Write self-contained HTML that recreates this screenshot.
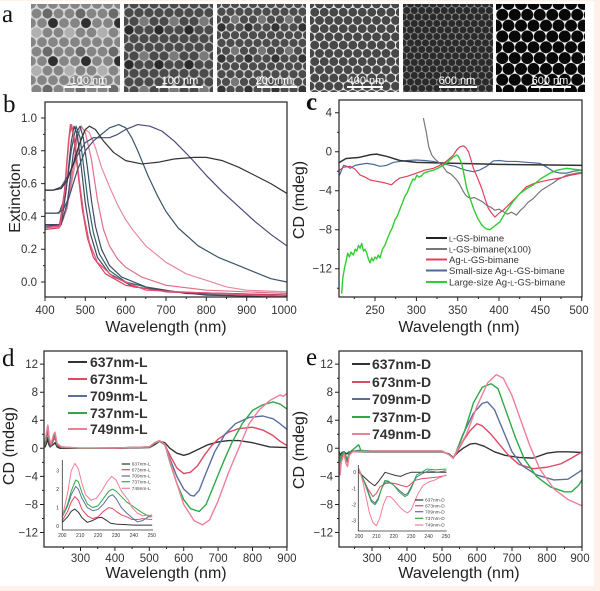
<!DOCTYPE html>
<html><head><meta charset="utf-8"><style>
html,body{margin:0;padding:0;background:#fff;}
svg{display:block;}
text{font-family:"Liberation Sans",Arial,sans-serif;}
.t{font-size:11.5px;fill:#333;}
.ax{font-size:16px;fill:#222;}
.lt{font-family:"Liberation Serif",serif;font-size:25px;fill:#111;}
.c path{fill:none;stroke-linejoin:round;stroke-linecap:round;}
</style></head><body>
<svg width="600" height="591" viewBox="0 0 600 591" xmlns="http://www.w3.org/2000/svg">
<defs>
<pattern id="p1" x="31" y="4" width="11" height="19.05" patternUnits="userSpaceOnUse"><rect width="11" height="19.05" fill="#d6d6d6"/><g fill="#858585"><circle cx="0" cy="0" r="4.9"/><circle cx="11" cy="0" r="4.9"/><circle cx="0" cy="19.05" r="4.9"/><circle cx="11" cy="19.05" r="4.9"/><circle cx="5.5" cy="9.525" r="4.9"/></g></pattern>
<pattern id="p1b" x="31" y="4" width="33" height="38.1" patternUnits="userSpaceOnUse"><circle cx="22" cy="19.05" r="4.9" fill="#2f2f2f"/><circle cx="5.5" cy="28.575" r="4.9" fill="#b0b0b0"/><circle cx="16.5" cy="9.525" r="4.9" fill="#6a6a6a"/></pattern>
<pattern id="p2" x="124" y="4" width="10" height="17.32" patternUnits="userSpaceOnUse"><rect width="10" height="17.32" fill="#c8c8c8"/><g fill="#4a4a4a"><circle cx="0" cy="0" r="4.6"/><circle cx="10" cy="0" r="4.6"/><circle cx="0" cy="17.32" r="4.6"/><circle cx="10" cy="17.32" r="4.6"/><circle cx="5" cy="8.66" r="4.6"/></g></pattern>
<pattern id="p2b" x="124" y="4" width="30" height="34.64" patternUnits="userSpaceOnUse"><circle cx="20" cy="17.32" r="4.6" fill="#7a7a7a"/><circle cx="5" cy="25.98" r="4.6" fill="#2a2a2a"/></pattern>
<pattern id="p3" x="217" y="4" width="9" height="15.59" patternUnits="userSpaceOnUse"><rect width="9" height="15.59" fill="#d8d8d8"/><g fill="#4c4c4c"><circle cx="0" cy="0" r="4.1"/><circle cx="9" cy="0" r="4.1"/><circle cx="0" cy="15.59" r="4.1"/><circle cx="9" cy="15.59" r="4.1"/><circle cx="4.5" cy="7.795" r="4.1"/></g></pattern>
<pattern id="p3b" x="217" y="4" width="27" height="31.18" patternUnits="userSpaceOnUse"><circle cx="18" cy="15.59" r="4.1" fill="#777"/><circle cx="4.5" cy="23.385" r="4.1" fill="#333"/></pattern>
<pattern id="p4" x="310" y="4" width="9.5" height="16.45" patternUnits="userSpaceOnUse"><rect width="9.5" height="16.45" fill="#eeeeee"/><g fill="#474747"><circle cx="0" cy="0" r="4.45"/><circle cx="9.5" cy="0" r="4.45"/><circle cx="0" cy="16.45" r="4.45"/><circle cx="9.5" cy="16.45" r="4.45"/><circle cx="4.75" cy="8.225" r="4.45"/></g></pattern>
<pattern id="p5" x="403" y="4" width="7.5" height="12.99" patternUnits="userSpaceOnUse"><rect width="7.5" height="12.99" fill="#8a8a8a"/><g fill="#2a2a2a"><circle cx="0" cy="0" r="3.45"/><circle cx="7.5" cy="0" r="3.45"/><circle cx="0" cy="12.99" r="3.45"/><circle cx="7.5" cy="12.99" r="3.45"/><circle cx="3.75" cy="6.495" r="3.45"/></g></pattern>
<pattern id="p6" x="496" y="4" width="12.5" height="21.65" patternUnits="userSpaceOnUse"><rect width="12.5" height="21.65" fill="#f4f4f4"/><g fill="#080808"><circle cx="0" cy="0" r="6"/><circle cx="12.5" cy="0" r="6"/><circle cx="0" cy="21.65" r="6"/><circle cx="12.5" cy="21.65" r="6"/><circle cx="6.25" cy="10.825" r="6"/></g></pattern>
<clipPath id="cb"><rect x="45" y="102" width="242" height="195"/></clipPath>
<clipPath id="cc"><rect x="339" y="100" width="243" height="197"/></clipPath>
<clipPath id="cd"><rect x="44" y="351" width="243" height="196"/></clipPath>
<clipPath id="ce"><rect x="339" y="351" width="243" height="196"/></clipPath>
</defs>

<!-- peach frame -->
<rect x="594" y="0" width="6" height="591" fill="#fdf1ea"/>
<rect x="0" y="586" width="600" height="5" fill="#fdf1ea"/>
<rect x="0" y="0" width="600" height="1" fill="#fdf1ea"/>

<!-- panel a -->
<text class="lt" x="2" y="22">a</text>
<rect x="31" y="4" width="89" height="88" fill="url(#p1)"/><rect x="31" y="4" width="89" height="88" fill="url(#p1b)"/>
<rect x="124" y="4" width="89" height="88" fill="url(#p2)"/><rect x="124" y="4" width="89" height="88" fill="url(#p2b)"/>
<rect x="217" y="4" width="89" height="88" fill="url(#p3)"/><rect x="217" y="4" width="89" height="88" fill="url(#p3b)"/>
<rect x="310" y="4" width="89" height="88" fill="url(#p4)"/>
<rect x="403" y="4" width="90" height="88" fill="url(#p5)"/>
<rect x="496" y="4" width="89" height="88" fill="url(#p6)"/>
<g fill="#fff" font-size="11" text-anchor="middle">
<rect x="64" y="86" width="47" height="2"/><text x="89" y="84">100 nm</text>
<rect x="156" y="86" width="47" height="2"/><text x="180" y="84">100 nm</text>
<rect x="257" y="86" width="40" height="2"/><text x="274" y="84">200 nm</text>
<rect x="347" y="86" width="36" height="2"/><text x="366" y="84">400 nm</text>
<rect x="439" y="86" width="38" height="2"/><text x="457" y="84">600 nm</text>
<rect x="531" y="86" width="40" height="2"/><text x="550" y="84">600 nm</text>
</g>

<!-- panel b -->
<text class="lt" x="3" y="112">b</text>
<g class="c" clip-path="url(#cb)">
<g transform="translate(-116.32,282) scale(0.4033,-1.64)" stroke-width="1.2">
<path vector-effect="non-scaling-stroke" stroke="#e68aa2" d="M400,33 L430,34 445,38 460,52 475,72 490,88 500,93 510,91 525,82 540,70 560,58 580,47 600,38 620,31 650,22 700,12 750,5 800,1 850,-3 900,-5 1000,-6"/>
<path vector-effect="non-scaling-stroke" stroke="#e0708c" d="M400,33 L440,35 455,45 470,70 480,88 490,95 500,91 515,75 530,50 545,32 560,22 580,14 600,9 640,3 700,-2 800,-5 1000,-7"/>
<path vector-effect="non-scaling-stroke" stroke="#3f4a6e" d="M400,34 L440,35 455,48 470,78 480,92 487,95 495,88 505,70 515,50 525,34 540,20 560,10 590,3 650,-3 750,-7 1000,-8"/>
<path vector-effect="non-scaling-stroke" stroke="#2f6262" d="M400,42 L435,42 450,52 465,80 477,95 487,88 497,68 507,48 520,30 535,17 560,7 600,0 700,-6 1000,-8"/>
<path vector-effect="non-scaling-stroke" stroke="#454560" d="M400,35 L440,35 452,55 465,85 472,95 480,90 490,70 500,48 512,30 530,15 560,5 620,-3 800,-8 1000,-9"/>
<path vector-effect="non-scaling-stroke" stroke="#d6405e" d="M400,32 L435,33 448,55 458,85 463,96 470,90 480,70 492,45 505,27 520,15 550,5 600,-2 700,-6 1000,-8"/>
<path vector-effect="non-scaling-stroke" stroke="#e25676" d="M400,33 L438,34 450,58 460,88 466,96 474,86 485,62 497,40 510,24 530,12 570,3 650,-5 1000,-9"/>
<path vector-effect="non-scaling-stroke" stroke="#3b5566" d="M400,42 L430,42 445,44 460,52 480,68 500,80 520,86 540,90 560,94 583,96 600,94 615,88 630,80 655,65 680,52 700,43 730,33 780,22 830,15 870,11 920,6 960,2 1000,0"/>
<path vector-effect="non-scaling-stroke" stroke="#4b4a78" d="M400,56 L420,56 440,58 460,66 480,77 500,85 520,88 540,88 560,88 580,90 600,93 630,96 660,95 690,92 720,86 760,76 800,65 840,55 880,46 920,37 960,29 1000,22"/>
<path vector-effect="non-scaling-stroke" stroke="#333" d="M400,56 L420,56 440,57 455,62 470,72 485,84 500,93 510,95 525,93 545,86 570,79 600,74 640,72 680,73 720,75 770,76 800,76 840,74 880,70 920,65 960,60 1000,54"/>
</g></g>
<rect x="45" y="102" width="242" height="195" fill="none" stroke="#222" stroke-width="1.2"/>
<path stroke="#222" stroke-width="1" fill="none" d="M45,282h-4M45,249.2h-4M45,216.4h-4M45,183.6h-4M45,150.8h-4M45,118h-4M45,265.6h-2M45,232.8h-2M45,200h-2M45,167.2h-2M45,134.4h-2M45,297v4M85.3,297v4M125.7,297v4M166,297v4M206.3,297v4M246.7,297v4M287,297v4M65.2,297v2M105.5,297v2M145.8,297v2M186.2,297v2M226.5,297v2M266.8,297v2"/>
<g class="t" text-anchor="end"><text x="37" y="286">0.0</text><text x="37" y="253.2">0.2</text><text x="37" y="220.4">0.4</text><text x="37" y="187.6">0.6</text><text x="37" y="154.8">0.8</text><text x="37" y="122">1.0</text></g>
<g class="t" text-anchor="middle"><text x="45" y="314">400</text><text x="85.3" y="314">500</text><text x="125.7" y="314">600</text><text x="166" y="314">700</text><text x="206.3" y="314">800</text><text x="246.7" y="314">900</text><text x="284" y="314">1000</text></g>
<text class="ax" text-anchor="middle" transform="translate(20,198) rotate(-90)">Extinction</text>
<text class="ax" x="166" y="332" text-anchor="middle">Wavelength (nm)</text>

<!-- panel c -->
<text class="lt" x="306" y="110" font-weight="bold">c</text>
<g class="c" clip-path="url(#cc)">
<g transform="translate(168.25,151.7) scale(0.827,-9.75)" stroke-width="1.2">
<path vector-effect="non-scaling-stroke" stroke="#4a6a9a" d="M207,-2.4 L212,-1.4 216,-1.5 220,-1.7 226,-1.4 232,-1.3 240,-1.2 248,-1.3 256,-1.5 264,-1.4 272,-1.1 280,-1.0 290,-0.9 300,-0.85 310,-0.9 320.6,-1.0 330,-1.2 340.7,-1.4 347,-1.5 352.8,-1.7 360,-1.9 369,-2.05 376,-1.9 385,-1.5 393,-0.95 400,-0.9 410,-1.0 421,-1.0 435,-1.1 449.5,-1.2 458,-1.6 466,-2.05 474,-2.2 481.8,-2.2 490,-2.0 500,-1.9"/>
<path vector-effect="non-scaling-stroke" stroke="#333" stroke-width="1.5" d="M207,-1.1 L215,-0.7 230,-0.6 245,-0.3 252,-0.25 265,-0.5 280,-0.9 300,-1.1 350,-1.2 400,-1.3 450,-1.35 500,-1.4"/>
<path vector-effect="non-scaling-stroke" stroke="#777" d="M308.6,3.4 L312,2 315,0.5 318.6,-0.34 323,-0.8 328.6,-1.2 332,-1.5 336.7,-2.05 342,-2.3 348.8,-2.9 352,-3.3 356.9,-4.1 360,-4.5 365,-4.8 370,-4.7 377,-5 381,-5.2 385,-5.5 390,-5.7 395,-6.0 400,-5.9 405,-6.15 410,-6.4 415,-6.2 421,-6.5 426,-6.0 430,-5.7 435,-5.2 441.5,-4.8 447,-4.3 452,-3.9 458,-3.6 465.6,-3.2 470,-2.9 475,-2.7 481.8,-2.4 488,-2.3 494,-2.2 500,-2.1"/>
<path vector-effect="non-scaling-stroke" stroke="#e0405e" d="M207,-1.9 L212,-1.6 219.9,-1.5 226,-1.8 232,-2.4 238,-2.6 244,-2.9 250,-3.0 256,-3.1 262,-3.2 270,-3.4 275,-3.0 280,-2.7 290,-2.5 300,-2.2 310,-1.9 320.6,-1.7 326,-1.5 332.7,-1.2 339,-0.8 344.8,-0.34 349,0.2 352.8,0.5 357,0.6 360,0.4 363,0 366,-0.8 369,-1.7 374,-2.7 379,-3.75 383,-4.8 387,-5.8 391,-6.3 395,-6.7 400,-6.3 405,-6 411,-5.5 417,-5 425,-4.3 433,-3.6 441,-3.3 449.5,-3.1 460,-2.9 473.7,-2.7 487,-2.4 500,-2.2"/>
<path vector-effect="non-scaling-stroke" stroke="#3c3" stroke-width="1.4" d="M209.8,-14.5 L211,-13 213,-12 215.8,-10.9 217,-10.4 219,-10.8 221,-10.3 223.8,-10.6 226,-10.0 228,-10.2 230,-9.6 231.9,-9.9 234,-9.4 236,-10.2 238,-10.0 240,-10.4 242,-11.0 244,-11.4 246,-10.9 248,-11.2 250,-10.8 252,-11.0 254,-10.6 256,-10.9 259,-10.0 262,-9.6 265,-8.9 268.5,-8.2 271,-7.8 274,-7.0 277,-6.6 280.6,-5.8 283,-5.3 286,-4.6 289,-4.2 292.7,-3.4 296,-2.8 298,-2.9 300.6,-2.4 303,-2.6 306,-2.5 309,-2.2 312,-2.1 316,-2.0 320.6,-1.9 326,-1.7 332.7,-1.4 336,-1.2 340.7,-0.85 344,-0.6 348.8,-0.34 351,-0.5 354.8,-1.2 358,-2.5 360.9,-3.75 365,-4.8 369,-5.8 374,-6.8 379,-7.5 384,-7.9 389,-8.0 395,-7.6 401,-7.2 408,-6.2 417,-5.1 425,-4.3 433,-3.8 441.5,-3.4 450,-2.8 461.6,-2.2 470,-1.9 481.8,-1.7 490,-1.8 500,-1.9"/>
</g></g>
<rect x="339" y="100" width="243" height="197" fill="none" stroke="#222" stroke-width="1.2"/>
<path stroke="#222" stroke-width="1" fill="none" d="M339,112.7h-4M339,151.7h-4M339,190.7h-4M339,229.7h-4M339,268.7h-4M339,132.2h-2M339,171.2h-2M339,210.2h-2M339,249.2h-2M339,288.2h-2M375,297v4M416.4,297v4M457.7,297v4M499,297v4M540.4,297v4M581.7,297v4M354.3,297v2M395.7,297v2M437,297v2M478.4,297v2M519.7,297v2M561,297v2"/>
<g class="t" text-anchor="end"><text x="332" y="116.7">4</text><text x="332" y="155.7">0</text><text x="332" y="194.7">−4</text><text x="332" y="233.7">−8</text><text x="332" y="272.7">−12</text></g>
<g class="t" text-anchor="middle"><text x="375" y="314">250</text><text x="416.4" y="314">300</text><text x="457.7" y="314">350</text><text x="499" y="314">400</text><text x="540.4" y="314">450</text><text x="579" y="314">500</text></g>
<text class="ax" text-anchor="middle" transform="translate(304,200) rotate(-90)">CD (mdeg)</text>
<text class="ax" x="459" y="332" text-anchor="middle">Wavelength (nm)</text>
<g stroke-width="2">
<line x1="426" x2="447" y1="238" y2="238" stroke="#222"/>
<line x1="426" x2="447" y1="249" y2="249" stroke="#777"/>
<line x1="426" x2="447" y1="259.5" y2="259.5" stroke="#e0405e"/>
<line x1="426" x2="447" y1="270.5" y2="270.5" stroke="#4a6a9a"/>
<line x1="426" x2="447" y1="282" y2="282" stroke="#3c3"/>
</g>
<g font-size="9.5" fill="#333">
<text x="449" y="241.5"><tspan font-size="7">L</tspan>-GS-bimane</text>
<text x="449" y="252.5"><tspan font-size="7">L</tspan>-GS-bimane(x100)</text>
<text x="449" y="263">Ag-<tspan font-size="7">L</tspan>-GS-bimane</text>
<text x="449" y="274">Small-size Ag-<tspan font-size="7">L</tspan>-GS-bimane</text>
<text x="449" y="285.5">Large-size Ag-<tspan font-size="7">L</tspan>-GS-bimane</text>
</g>

<!-- panel d -->
<text class="lt" x="2" y="366">d</text>
<g class="c" clip-path="url(#cd)">
<g transform="translate(-22.7,448.3) scale(0.344,-7.02)" stroke-width="1.4">
<path vector-effect="non-scaling-stroke" stroke="#333" d="M197,0.2 L202,0.8 205,1.5 208,0.5 212,0.2 222,0.6 226,0.8 232,0.2 240,0 300,0 400,0 500,0.1 515,0.5 530,1.0 545,0.8 560,0 580,-0.7 600,-1.0 615,-0.8 640,-0.2 670,0.5 700,0.9 730,1.1 760,1.1 800,0.8 850,0.2 900,0.1"/>
<path vector-effect="non-scaling-stroke" stroke="#dc4a64" d="M197,0.5 L202,1.5 206,2.5 209,0.8 214,0.3 222,1.2 226,1.5 232,0.4 245,0.1 300,0 400,0 500,0.2 515,0.7 530,1.0 545,0.5 560,-1.0 580,-2.8 600,-3.6 620,-3.4 640,-2.5 660,-1.0 680,0.3 700,1.3 730,2.3 760,2.8 800,3.0 830,2.6 860,1.8 880,1.0 900,0.4"/>
<path vector-effect="non-scaling-stroke" stroke="#5b6f9c" d="M197,0.6 L202,2 206,2.8 209,1.0 214,0.4 222,1.6 226,1.8 232,0.5 245,0.2 300,0 400,0.05 500,0.2 515,0.7 530,1.0 545,0.6 560,-1.5 580,-4 600,-5.8 620,-6.7 630,-6.8 645,-6.0 665,-3.5 690,-0.5 720,2.0 750,3.5 790,4.4 830,4.6 860,4.2 880,3.5 900,2.7"/>
<path vector-effect="non-scaling-stroke" stroke="#2ea84a" d="M197,0.7 L202,2.2 206,3.0 209,1.2 214,0.5 222,1.8 226,2.0 232,0.6 245,0.2 300,0 400,0.05 500,0.2 515,0.7 530,1.0 545,0.6 560,-2 580,-5 600,-7.3 620,-8.6 645,-9.0 665,-8.0 690,-5 715,-2 740,0.8 770,3.5 800,5.4 830,6.2 860,6.6 880,6.3 900,5.6"/>
<path vector-effect="non-scaling-stroke" stroke="#ee7f9a" d="M197,1.0 L202,2.5 205,3.3 209,1.5 214,0.6 222,2.0 226,2.3 232,0.7 245,0.2 300,0.05 400,0.05 500,0.2 515,0.8 530,1.1 545,0.6 560,-1.8 580,-5 600,-8 630,-10.3 655,-10.9 675,-10.2 700,-7.5 730,-3.5 760,0 790,3.5 820,5.5 850,6.8 865,7.2 880,7.6 890,7.4 900,7.8"/>
</g></g>
<rect x="44" y="351" width="243" height="196" fill="none" stroke="#222" stroke-width="1.2"/>
<path stroke="#222" stroke-width="1" fill="none" d="M44,364.1h-4M44,392.2h-4M44,420.2h-4M44,448.3h-4M44,476.4h-4M44,504.5h-4M44,532.5h-4M44,378.2h-2M44,406.2h-2M44,434.3h-2M44,462.4h-2M44,490.4h-2M44,518.5h-2M80.5,547v4M114.9,547v4M149.3,547v4M183.7,547v4M218.1,547v4M252.5,547v4M286.9,547v4M63.3,547v2M97.7,547v2M132.1,547v2M166.5,547v2M200.9,547v2M235.3,547v2M269.7,547v2"/>
<g class="t" text-anchor="end"><text x="38" y="368.1">12</text><text x="38" y="396.2">8</text><text x="38" y="424.2">4</text><text x="38" y="452.3">0</text><text x="38" y="480.4">−4</text><text x="38" y="508.5">−8</text><text x="38" y="536.5">−12</text></g>
<g class="t" text-anchor="middle"><text x="80.5" y="562">300</text><text x="114.9" y="562">400</text><text x="149.3" y="562">500</text><text x="183.7" y="562">600</text><text x="218.1" y="562">700</text><text x="252.5" y="562">800</text><text x="286.9" y="562">900</text></g>
<text class="ax" text-anchor="middle" transform="translate(14,446) rotate(-90)">CD (mdeg)</text>
<text class="ax" x="166" y="578" text-anchor="middle">Wavelength (nm)</text>
<g stroke-width="2">
<line x1="68" x2="87" y1="362" y2="362" stroke="#333"/>
<line x1="68" x2="87" y1="379" y2="379" stroke="#dc4a64"/>
<line x1="68" x2="87" y1="396" y2="396" stroke="#5b6f9c"/>
<line x1="68" x2="87" y1="413" y2="413" stroke="#2ea84a"/>
<line x1="68" x2="87" y1="429" y2="429" stroke="#ee7f9a"/>
</g>
<g font-size="14" font-weight="bold" fill="#333">
<text x="90" y="367">637nm-L</text><text x="90" y="384">673nm-L</text><text x="90" y="401">709nm-L</text><text x="90" y="418">737nm-L</text><text x="90" y="434">749nm-L</text>
</g>
<!-- inset d -->
<g class="c">
<g transform="translate(-295.7,526) scale(1.79,-18.4)" stroke-width="1">
<path vector-effect="non-scaling-stroke" stroke="#333" d="M200,0.2 L203,0.5 205,0.8 207,0.92 209,0.75 211,0.45 214,0.2 217,0.3 220,0.45 222,0.47 224,0.35 227,0.15 230,0.1 240,0.05 250,0.05"/>
<path vector-effect="non-scaling-stroke" stroke="#dc4a64" d="M200,0.3 L203,0.8 205,1.3 207,1.6 209,1.4 211,0.9 214,0.55 217,0.4 220,0.5 223,0.8 226,1.0 228,0.95 230,0.8 233,0.6 236,0.5 239,0.35 242,0.35 245,0.4 250,0.35"/>
<path vector-effect="non-scaling-stroke" stroke="#5b6f9c" d="M200,0.5 L203,1.1 205,1.7 207.5,2.15 209,2.0 211,1.5 214,1.0 217,0.83 220,0.9 223,1.2 226,1.6 228,1.7 230,1.5 233,1.0 236,0.7 239,0.45 242,0.22 245,0.3 248,0.5 250,0.5"/>
<path vector-effect="non-scaling-stroke" stroke="#2ea84a" d="M200,0.5 L203,1.2 205,1.9 207.5,2.5 209,2.4 211,1.8 214,1.2 217,1.0 220,1.1 223,1.5 226,1.9 228,2.0 230,1.9 233,1.6 236,1.3 239,1.1 242,0.9 245,0.7 248,0.55 250,0.6"/>
<path vector-effect="non-scaling-stroke" stroke="#ee7f9a" d="M200,0.5 L203,1.8 205,3.0 207,3.4 209,3.1 211,2.3 213,1.7 216,1.4 219,1.5 222,1.9 225,2.4 227.6,2.7 230,2.5 233,1.9 236.9,1.4 239,1.0 241.9,0.7 245,0.55 248,0.6 250,0.5"/>
</g></g>
<path stroke="#333" stroke-width="0.8" fill="none" d="M62.3,460V530H153"/>
<g font-size="5" fill="#333" text-anchor="end"><text x="59" y="527.8">0</text><text x="59" y="509.4">1</text><text x="59" y="491">2</text><text x="59" y="472.6">3</text></g>
<g font-size="5" fill="#333" text-anchor="middle"><text x="62.3" y="537">200</text><text x="80.2" y="537">210</text><text x="98.1" y="537">220</text><text x="116" y="537">230</text><text x="133.9" y="537">240</text><text x="151.8" y="537">250</text></g>
<g stroke-width="1.2"><line x1="121.7" x2="130" y1="464" y2="464" stroke="#333"/><line x1="121.7" x2="130" y1="469.7" y2="469.7" stroke="#dc4a64"/><line x1="121.7" x2="130" y1="476" y2="476" stroke="#5b6f9c"/><line x1="121.7" x2="130" y1="481.7" y2="481.7" stroke="#2ea84a"/><line x1="121.7" x2="130" y1="488.3" y2="488.3" stroke="#ee7f9a"/></g>
<g font-size="4.8" fill="#444"><text x="131.7" y="465.7">637nm-L</text><text x="131.7" y="471.4">673nm-L</text><text x="131.7" y="477.7">709nm-L</text><text x="131.7" y="483.4">737nm-L</text><text x="131.7" y="490">749nm-L</text></g>

<!-- panel e -->
<text class="lt" x="306" y="365">e</text>
<g class="c" clip-path="url(#ce)">
<g transform="translate(267,448.3) scale(0.35,-7.02)" stroke-width="1.4">
<path vector-effect="non-scaling-stroke" stroke="#333" d="M206,-0.5 L210,-1.0 214,-0.6 220,-0.5 228,-0.8 235,-0.5 260,-0.5 300,-0.5 400,-0.5 500,-0.5 520,-0.8 532,-1.3 545,-0.6 560,0 580,0.6 595,0.7 620,0.3 650,-0.5 680,-1.0 720,-1.3 760,-1.4 800,-0.7 830,-0.5 860,-0.5 900,-0.6"/>
<path vector-effect="non-scaling-stroke" stroke="#dc4a64" d="M206,-1 L209,-3.5 212,-1.5 220,-0.6 226,-1.6 230,-2.0 235,-0.8 245,-0.4 260,-0.4 300,-0.4 400,-0.4 500,-0.4 520,-0.9 532,-1.4 540,-0.8 560,1.0 580,2.5 600,3.5 615,3.2 640,2.0 665,0.5 690,-1.0 720,-2.3 760,-2.9 800,-2.7 840,-2.2 870,-1.4 900,-0.5"/>
<path vector-effect="non-scaling-stroke" stroke="#5b6f9c" d="M206,-0.8 L209,-2.2 212,-1 220,-0.5 226,-1.2 230,-1.6 235,-0.6 260,-0.3 300,-0.4 400,-0.4 500,-0.4 520,-0.9 532,-1.4 540,-0.6 560,2 590,5.0 615,6.4 630,6.6 650,5.5 675,2.5 700,-0.5 730,-2.5 770,-3.8 820,-4.5 860,-4.4 900,-3.1"/>
<path vector-effect="non-scaling-stroke" stroke="#2ea84a" d="M206,-0.8 L209,-2.3 212,-1 220,-0.5 226,-1.3 230,-1.8 235,-0.6 250,0 262,0.5 268,-0.3 300,-0.4 400,-0.4 500,-0.4 520,-0.9 532,-1.4 540,-0.6 565,2.5 590,6.5 615,8.7 640,9.2 660,8.5 685,5 710,1.5 735,-1.5 770,-4 810,-5.5 850,-6.2 870,-6.2 890,-5.3 900,-4.5"/>
<path vector-effect="non-scaling-stroke" stroke="#ee7f9a" d="M206,-1.2 L209,-3.8 212,-2 220,-0.8 226,-2.2 230,-2.6 235,-1 245,-0.5 300,-0.4 400,-0.4 500,-0.4 520,-0.9 532,-1.4 540,-0.6 570,2 600,6.0 630,9.3 655,10.5 675,10 700,7.5 725,4 750,0.5 780,-3 820,-5.8 860,-7.3 900,-8.2"/>
</g></g>
<rect x="339" y="351" width="243" height="196" fill="none" stroke="#222" stroke-width="1.2"/>
<path stroke="#222" stroke-width="1" fill="none" d="M339,364.1h-4M339,392.2h-4M339,420.2h-4M339,448.3h-4M339,476.4h-4M339,504.5h-4M339,532.5h-4M339,378.2h-2M339,406.2h-2M339,434.3h-2M339,462.4h-2M339,490.4h-2M339,518.5h-2M372,547v4M407,547v4M442,547v4M477,547v4M512,547v4M547,547v4M582,547v4M354.5,547v2M389.5,547v2M424.5,547v2M459.5,547v2M494.5,547v2M529.5,547v2M564.5,547v2"/>
<g class="t" text-anchor="end"><text x="333" y="368.1">12</text><text x="333" y="396.2">8</text><text x="333" y="424.2">4</text><text x="333" y="452.3">0</text><text x="333" y="480.4">−4</text><text x="333" y="508.5">−8</text><text x="333" y="536.5">−12</text></g>
<g class="t" text-anchor="middle"><text x="372" y="562">300</text><text x="407" y="562">400</text><text x="442" y="562">500</text><text x="477" y="562">600</text><text x="512" y="562">700</text><text x="547" y="562">800</text><text x="580" y="562">900</text></g>
<text class="ax" text-anchor="middle" transform="translate(304,450) rotate(-90)">CD (mdeg)</text>
<text class="ax" x="459" y="578" text-anchor="middle">Wavelength (nm)</text>
<g stroke-width="2">
<line x1="352" x2="370" y1="364" y2="364" stroke="#333"/>
<line x1="352" x2="370" y1="382" y2="382" stroke="#dc4a64"/>
<line x1="352" x2="370" y1="399" y2="399" stroke="#5b6f9c"/>
<line x1="352" x2="370" y1="417" y2="417" stroke="#2ea84a"/>
<line x1="352" x2="370" y1="434" y2="434" stroke="#ee7f9a"/>
</g>
<g font-size="14" font-weight="bold" fill="#333">
<text x="372" y="369">637nm-D</text><text x="372" y="387">673nm-D</text><text x="372" y="404">709nm-D</text><text x="372" y="422">737nm-D</text><text x="372" y="439">749nm-D</text>
</g>
<!-- inset e -->
<g class="c">
<g transform="translate(11,472.3) scale(1.74,-16.2)" stroke-width="1">
<path vector-effect="non-scaling-stroke" stroke="#333" d="M200,0.0 L203,-0.3 206,-0.6 209,-0.83 211,-0.6 213,-0.3 215,0.0 218,-0.1 221,-0.2 224,-0.25 227,-0.1 230,0.0 240,0.0 250,0.0"/>
<path vector-effect="non-scaling-stroke" stroke="#dc4a64" d="M200,0.0 L202,-0.3 205,-1.0 208,-1.5 210,-1.3 212,-0.9 215,-0.7 218,-0.65 221,-0.7 224,-0.8 227.4,-0.9 229,-0.8 232,-0.5 236,-0.4 240,-0.35 245,-0.3 250,-0.2"/>
<path vector-effect="non-scaling-stroke" stroke="#5b6f9c" d="M200,0.1 L202,-0.3 205,-1.1 207,-1.7 209.2,-1.9 211,-1.6 213,-1.0 215,-0.6 217,-0.6 220,-0.8 223,-1.1 226.4,-1.4 228,-1.3 230,-0.9 233,-0.3 236,-0.1 240,0.1 245,0.0 250,0.1"/>
<path vector-effect="non-scaling-stroke" stroke="#2ea84a" d="M200,0.2 L202,-0.3 205,-1.2 207,-1.8 209.2,-2.0 211,-1.7 213,-1.0 214.9,-0.5 217,-0.55 220,-0.8 223,-1.2 226.4,-1.5 228,-1.4 230,-1.0 233,-0.17 236,0.0 239,0.2 244,0.15 250,0.2"/>
<path vector-effect="non-scaling-stroke" stroke="#ee7f9a" d="M200,0.2 L202,-0.5 204,-1.5 206,-2.5 208,-3.1 210,-3.3 212,-2.8 214,-2.0 216,-1.5 218,-1.5 220,-1.7 223,-2.1 226,-2.4 228,-2.5 230,-2.3 232,-1.8 234,-1.3 236.9,-0.8 240,-0.6 243,-0.5 246,-0.35 250,-0.17"/>
</g></g>
<path stroke="#333" stroke-width="0.8" fill="none" d="M358.3,465V531H446.7"/>
<g font-size="5" fill="#333" text-anchor="end"><text x="356" y="474.1">0</text><text x="356" y="490.3">-1</text><text x="356" y="506.5">-2</text><text x="356" y="522.7">-3</text></g>
<g font-size="5" fill="#333" text-anchor="middle"><text x="359" y="538">200</text><text x="376.4" y="538">210</text><text x="393.8" y="538">220</text><text x="411.2" y="538">230</text><text x="428.6" y="538">240</text><text x="446" y="538">250</text></g>
<g stroke-width="1.2"><line x1="415" x2="423.3" y1="500" y2="500" stroke="#333"/><line x1="415" x2="423.3" y1="505.7" y2="505.7" stroke="#dc4a64"/><line x1="415" x2="423.3" y1="511.7" y2="511.7" stroke="#5b6f9c"/><line x1="415" x2="423.3" y1="518.3" y2="518.3" stroke="#2ea84a"/><line x1="415" x2="423.3" y1="525" y2="525" stroke="#ee7f9a"/></g>
<g font-size="4.8" fill="#444"><text x="425" y="501.7">637nm-D</text><text x="425" y="507.4">673nm-D</text><text x="425" y="513.4">709nm-D</text><text x="425" y="520">737nm-D</text><text x="425" y="526.7">749nm-D</text></g>
</svg>
</body></html>
